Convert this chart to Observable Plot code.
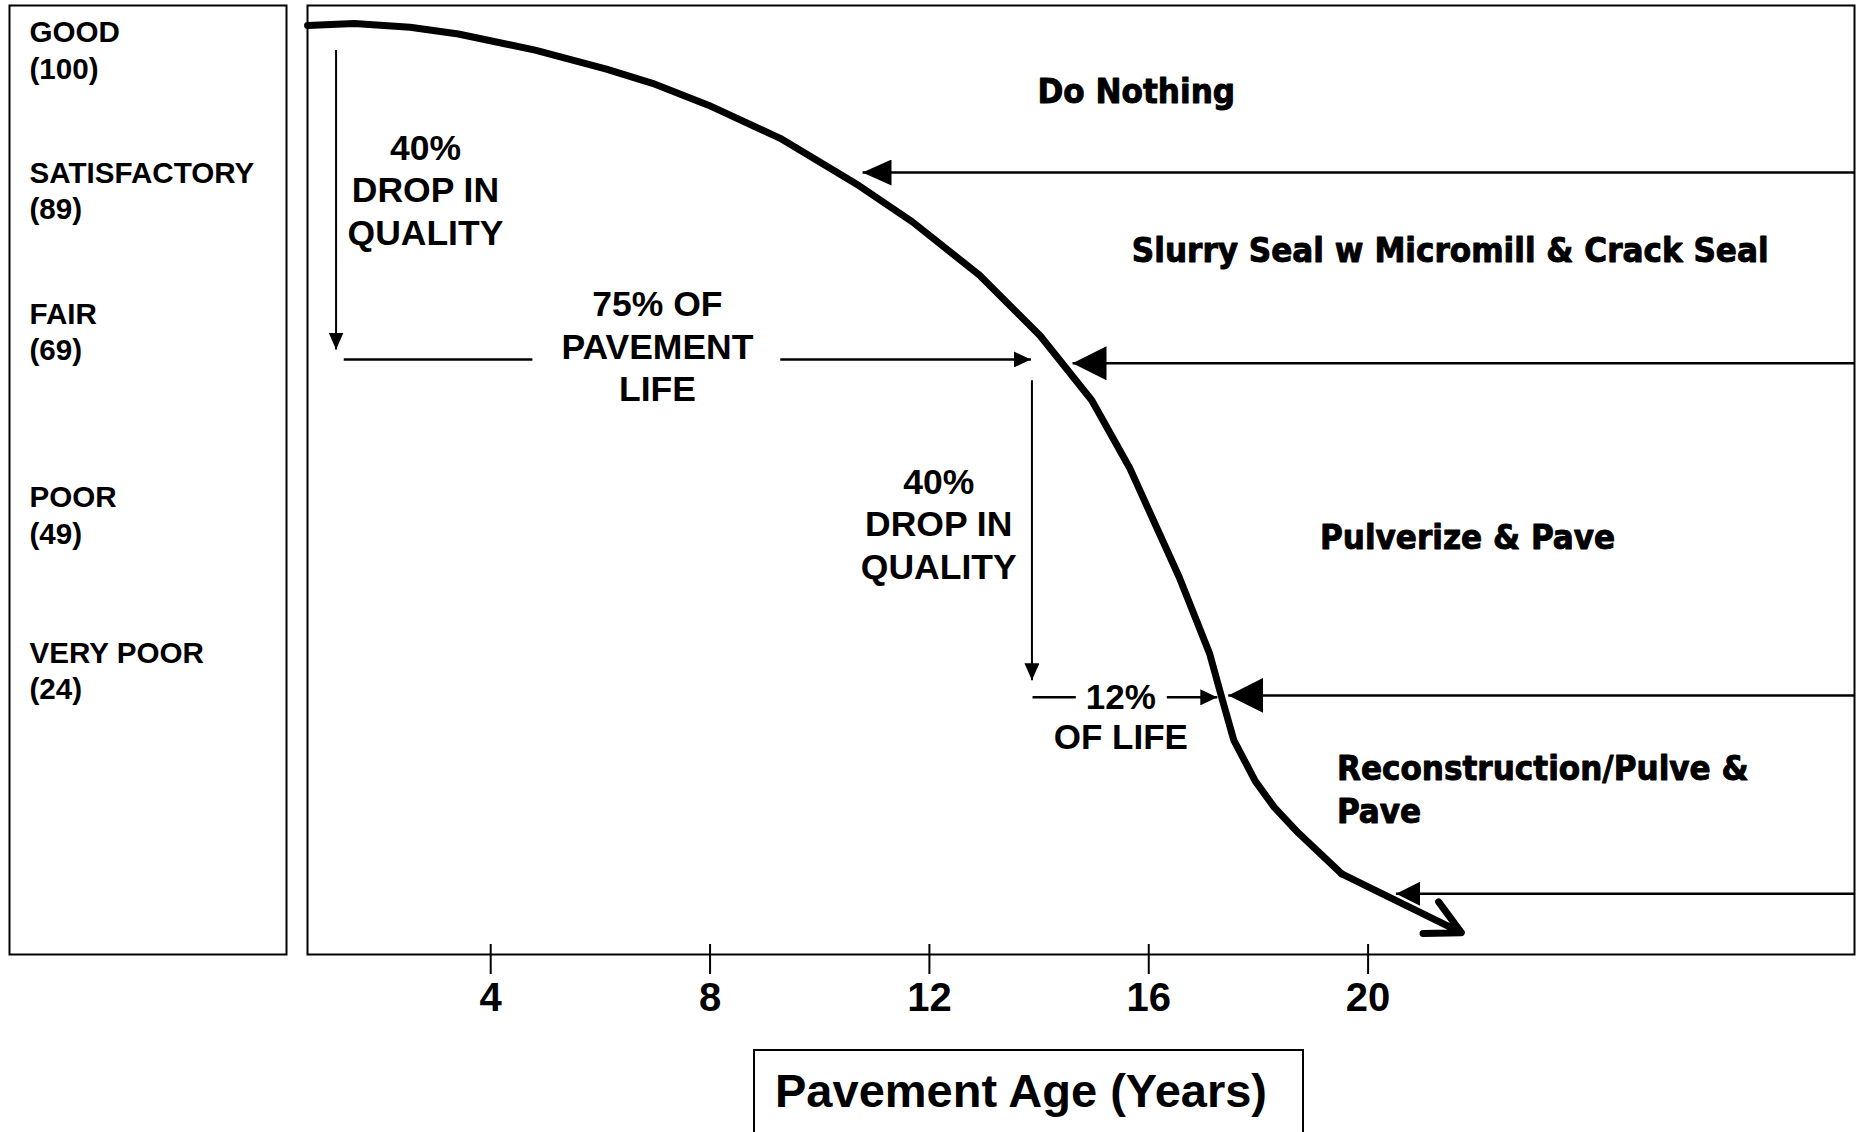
<!DOCTYPE html>
<html>
<head>
<meta charset="utf-8">
<script src="https://cdn.jsdelivr.net/npm/d3@7"></script>
<script src="https://cdn.jsdelivr.net/npm/@observablehq/plot@0.6"></script>
<style>
  html, body { margin: 0; padding: 0; background: #fff; }
  #wrap { position: relative; width: 1857px; height: 1132px; overflow: hidden; background: #fff; }
  #left { position: absolute; left: 0; top: 0; width: 290px; }
  #main { position: absolute; left: 290px; top: 0; width: 1567px; }
  #wrap svg { max-width: none; }
  #xtitle {
    position: absolute; left: 753px; top: 1049px; width: 527px; height: 200px;
    border: 2px solid #000; padding: 16px 0 0 20px;
    font: bold 47px "Liberation Sans", Arial, sans-serif; line-height: 1;
    white-space: nowrap; color: #000;
  }
</style>
</head>
<body>
<div id="wrap">
  <div id="left"></div>
  <div id="main"></div>
  <div id="xtitle">Pavement Age (Years)</div>
</div>
<script>
// ---------------- data ----------------
// Pavement condition curve: age in years, condition (0-100 over the chart height)
const curveAge = [0.66, 1.51, 2.53, 3.41, 4.81, 6.11, 6.95, 7.97, 9.28, 10.72, 11.69, 12.91, 14.02, 14.96, 15.65, 16.56, 17.11, 17.33, 17.55, 17.94, 18.29, 18.73, 19.52];
const curvePci = [97.9, 98.1, 97.7, 97.0, 95.3, 93.3, 91.8, 89.5, 86.0, 81.0, 77.2, 71.6, 65.2, 58.4, 51.3, 39.7, 31.7, 27.1, 22.6, 18.3, 15.5, 12.8, 8.5];
const curveTipAge = 21.70;
const curveTipPci = 2.3;

const xTicks = [4, 8, 12, 16, 20];
const xDomain = [0.659, 28.87];

// Condition categories (left panel)
const conditionNames = ["GOOD", "SATISFACTORY", "FAIR", "POOR", "VERY POOR"];
const conditionScores = [100, 89, 69, 49, 24];
const conditionLevels = [95.45, 80.65, 65.75, 46.45, 30.05];

// Treatment zones (right labels)
const treatmentLabels = ["Do Nothing", "Slurry Seal w Micromill & Crack Seal", "Pulverize & Pave", "Reconstruction/Pulve &\nPave"];
const treatmentAge = [13.99, 15.71, 19.14, 19.45];
const treatmentPci = [91.12, 74.42, 44.12, 17.55];

// Treatment boundary arrows (from right edge to the curve)
const boundaryPci = [82.4, 62.3, 27.3, 6.4];
const boundaryTipAge = [10.78, 14.61, 17.45, 20.51];

// "40% drop in quality" arrows
const dropAge = [1.18, 13.87];
const dropFrom = [95.3, 60.5];
const dropTo = [63.75, 28.9];
const dropText = ["40%\nDROP IN\nQUALITY", "40%\nDROP IN\nQUALITY"];
const dropTextAge = [2.81, 12.17];
const dropTextPci = [80.7, 45.5];

// "% of life" spans (left plain segment, right arrow segment)
const spanPci = [62.7, 27.1];
const spanLeftFrom = [1.32, 13.88];
const spanLeftTo = [4.76, 14.67];
const spanRightFrom = [9.28, 16.33];
const spanRightTo = [13.85, 17.25];
const spanText = ["75% OF\nPAVEMENT\nLIFE", "12%\nOF LIFE"];
const spanTextAge = [7.04, 15.49];
const spanTextPci = [64.2, 25.1];

// ---------------- build tables ----------------
const curve = curveAge.map((a, i) => ({age: a, pci: curvePci[i]}));
const last = curve[curve.length - 1];
const curveArrow = [{x1: last.age, y1: last.pci, x2: curveTipAge, y2: curveTipPci}];
const conditions = conditionNames.map((n, i) => ({name: n, score: conditionScores[i], level: conditionLevels[i]}));
const treatments = treatmentLabels.map((t, i) => ({label: t, age: treatmentAge[i], pci: treatmentPci[i]}));
const boundaries = boundaryPci.map((p, i) => ({pci: p, tip: boundaryTipAge[i], from: xDomain[1]}));
const drops = dropAge.map((a, i) => ({age: a, from: dropFrom[i], to: dropTo[i]}));
const dropLabels = dropText.map((t, i) => ({text: t, age: dropTextAge[i], pci: dropTextPci[i]}));
const spansLeft = spanPci.map((p, i) => ({pci: p, a: spanLeftFrom[i], b: spanLeftTo[i]}));
const spansRight = spanPci.map((p, i) => ({pci: p, a: spanRightFrom[i], b: spanRightTo[i]}));
const spanLabels = spanText.map((t, i) => ({text: t, age: spanTextAge[i], pci: spanTextPci[i]}));

// ---------------- styles ----------------
const SANS = "'Liberation Sans', Arial, Helvetica, sans-serif";
const COND = "'DejaVu Sans Condensed', 'DejaVu Sans', Verdana, sans-serif";
const boundaryHeads = [[29, 13], [34, 17], [35, 17.5], [24, 12]];

function filledHead(len, half) {
  return (color) => {
    const ns = "http://www.w3.org/2000/svg";
    const m = document.createElementNS(ns, "marker");
    m.setAttribute("viewBox", `${-len} ${-half} ${len} ${2 * half}`);
    m.setAttribute("markerWidth", len);
    m.setAttribute("markerHeight", 2 * half);
    m.setAttribute("markerUnits", "userSpaceOnUse");
    m.setAttribute("refX", 0);
    m.setAttribute("refY", 0);
    m.setAttribute("orient", "auto");
    const p = document.createElementNS(ns, "path");
    p.setAttribute("d", `M0,0L${-len},${-half}L${-len},${half}Z`);
    p.setAttribute("fill", color);
    p.setAttribute("stroke", "none");
    m.appendChild(p);
    return m;
  };
}

const H = 1049, MT = 5, MB = 95;

// ---------------- left panel ----------------
const leftPlot = Plot.plot({
  width: 290, height: H,
  marginLeft: 9, marginRight: 4, marginTop: MT, marginBottom: MB,
  y: {domain: [0, 100], axis: null},
  style: {fontFamily: SANS, background: "white", color: "black"},
  marks: [
    Plot.frame({stroke: "black", strokeWidth: 2}),
    Plot.text(conditions, {
      y: "level", text: d => `${d.name}\n(${d.score})`,
      frameAnchor: "left", dx: 20, textAnchor: "start", lineAnchor: "middle",
      lineHeight: 1.23, fontSize: 29.6, fontWeight: "bold", fill: "black"
    })
  ]
});
document.getElementById("left").appendChild(leftPlot);

// ---------------- main panel ----------------
const mainPlot = Plot.plot({
  width: 1567, height: H,
  marginLeft: 17, marginRight: 3, marginTop: MT, marginBottom: MB,
  x: {domain: xDomain},
  y: {domain: [0, 100], axis: null},
  style: {fontFamily: SANS, background: "white", color: "black", overflow: "visible"},
  marks: [
    Plot.frame({stroke: "black", strokeWidth: 2}),
    Plot.axisX({
      ticks: xTicks, tickFormat: d => String(d), label: null,
      tickSize: 30, tickPadding: 8, dy: -10,
      fontSize: 40, fontWeight: "bold", strokeWidth: 2
    }),
    // condition curve
    Plot.line(curve, {x: "age", y: "pci", stroke: "black", strokeWidth: 7}),
    Plot.arrow(curveArrow, {x1: "x1", y1: "y1", x2: "x2", y2: "y2", stroke: "black", strokeWidth: 7, headLength: 8.2, headAngle: 55}),
    // treatment boundary arrows
    ...boundaries.map((d, i) => Plot.link([d], {
      x1: "from", x2: "tip", y1: "pci", y2: "pci",
      stroke: "black", strokeWidth: 2.5,
      markerEnd: filledHead(boundaryHeads[i][0], boundaryHeads[i][1])
    })),
    // drop-in-quality arrows
    Plot.link(drops, {x1: "age", x2: "age", y1: "from", y2: "to", stroke: "black", strokeWidth: 2, markerEnd: filledHead(17, 7.5)}),
    // life spans
    Plot.link(spansLeft, {x1: "a", x2: "b", y1: "pci", y2: "pci", stroke: "black", strokeWidth: 2.5}),
    Plot.link(spansRight, {x1: "a", x2: "b", y1: "pci", y2: "pci", stroke: "black", strokeWidth: 2.5, markerEnd: filledHead(17, 8)}),
    // annotation texts
    Plot.text(dropLabels, {x: "age", y: "pci", text: "text", lineAnchor: "middle", lineHeight: 1.2, fontSize: 35.5, fontWeight: "bold", fill: "black"}),
    Plot.text(spanLabels.slice(0, 1), {x: "age", y: "pci", text: "text", lineAnchor: "middle", lineHeight: 1.2, fontSize: 35.5, fontWeight: "bold", fill: "black"}),
    Plot.text(spanLabels.slice(1), {x: "age", y: "pci", text: "text", lineAnchor: "middle", lineHeight: 1.14, fontSize: 35, fontWeight: "bold", fill: "black"}),
    // treatment labels
    Plot.text(treatments, {
      x: "age", y: "pci", text: "label", textAnchor: "start", lineAnchor: "middle", dx: -1,
      lineHeight: 1.22, fontFamily: COND, fontSize: 34.6, fontWeight: "bold",
      fill: "black", stroke: "black", strokeWidth: 0.9
    })
  ]
});
document.getElementById("main").appendChild(mainPlot);
</script>
</body>
</html>
